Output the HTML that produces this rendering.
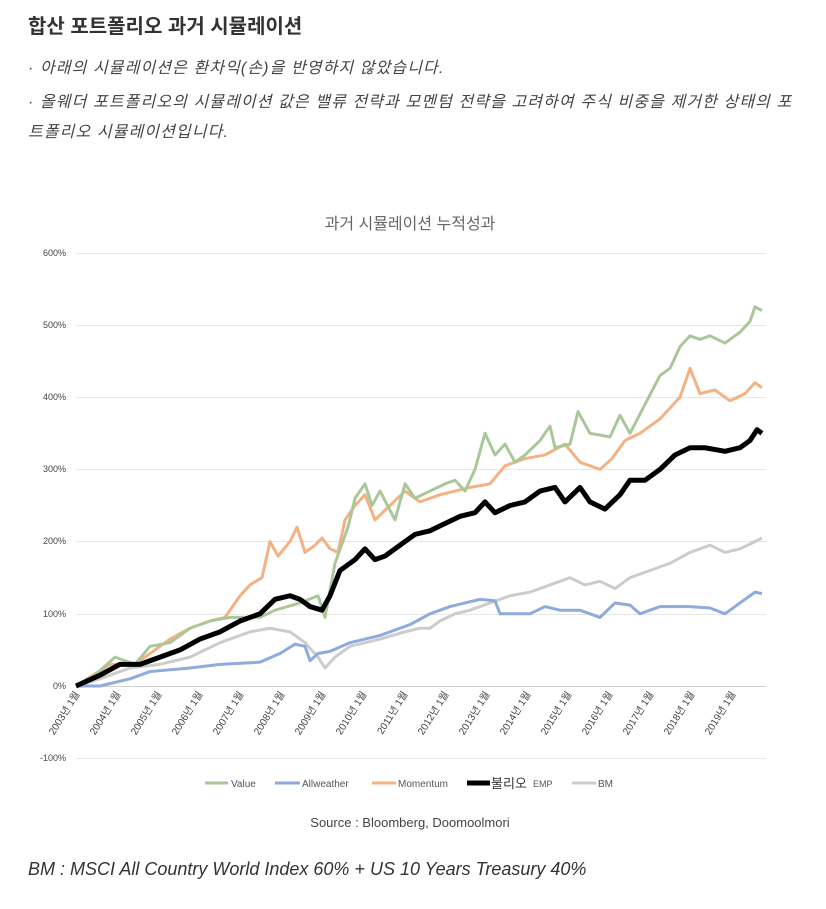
<!DOCTYPE html>
<html><head><meta charset="utf-8"><style>
body{margin:0;background:#fff;width:826px;height:909px;overflow:hidden;font-family:"Liberation Sans","Noto Sans CJK KR",sans-serif;color:#333}
.t{position:absolute;left:28px;top:10px;font-size:20px;font-weight:bold;color:#333}
.p{position:absolute;left:28px;font-size:16px;font-style:italic;color:#444;letter-spacing:1.1px;white-space:nowrap}
</style></head><body>
<div class="t">합산 포트폴리오 과거 시뮬레이션</div>
<div class="p" style="top:54px">· 아래의 시뮬레이션은 환차익(손)을 반영하지 않았습니다.</div>
<div class="p" style="top:88px">· 올웨더 포트폴리오의 시뮬레이션 값은 밸류 전략과 모멘텀 전략을 고려하여 주식 비중을 제거한 상태의 포</div>
<div class="p" style="top:118px">트폴리오 시뮬레이션입니다.</div>
<svg width="826" height="909" style="position:absolute;left:0;top:0" font-family="Liberation Sans, Noto Sans CJK KR, sans-serif">
<text x="410" y="229" font-size="16" fill="#666" text-anchor="middle">과거 시뮬레이션 누적성과</text>
<g stroke="#e6e6e6" stroke-width="1">
<line x1="76" x2="766" y1="253.5" y2="253.5"/><line x1="76" x2="766" y1="325.5" y2="325.5"/><line x1="76" x2="766" y1="397.5" y2="397.5"/><line x1="76" x2="766" y1="469.5" y2="469.5"/><line x1="76" x2="766" y1="541.5" y2="541.5"/><line x1="76" x2="766" y1="614.5" y2="614.5"/><line x1="76" x2="766" y1="758.5" y2="758.5"/>
</g>
<line x1="76" x2="766" y1="686.5" y2="686.5" stroke="#d0d0d0"/>
<g font-size="9" fill="#444" text-anchor="end">
<text x="66" y="256">600%</text><text x="66" y="328">500%</text><text x="66" y="400">400%</text><text x="66" y="472">300%</text><text x="66" y="544">200%</text><text x="66" y="617">100%</text><text x="66" y="689">0%</text><text x="66" y="761">-100%</text>
</g>
<g font-size="10" fill="#444" text-anchor="end">
<text transform="translate(80,694) rotate(-58)">2003년 1월</text><text transform="translate(121,694) rotate(-58)">2004년 1월</text><text transform="translate(162,694) rotate(-58)">2005년 1월</text><text transform="translate(203,694) rotate(-58)">2006년 1월</text><text transform="translate(244,694) rotate(-58)">2007년 1월</text><text transform="translate(285,694) rotate(-58)">2008년 1월</text><text transform="translate(326,694) rotate(-58)">2009년 1월</text><text transform="translate(367,694) rotate(-58)">2010년 1월</text><text transform="translate(408,694) rotate(-58)">2011년 1월</text><text transform="translate(449,694) rotate(-58)">2012년 1월</text><text transform="translate(490,694) rotate(-58)">2013년 1월</text><text transform="translate(531,694) rotate(-58)">2014년 1월</text><text transform="translate(572,694) rotate(-58)">2015년 1월</text><text transform="translate(613,694) rotate(-58)">2016년 1월</text><text transform="translate(654,694) rotate(-58)">2017년 1월</text><text transform="translate(695,694) rotate(-58)">2018년 1월</text><text transform="translate(736,694) rotate(-58)">2019년 1월</text>
</g>
<g transform="translate(0,686) scale(1,-0.722)" fill="none" stroke-linejoin="round">
<polyline vector-effect="non-scaling-stroke" stroke="#cccccc" stroke-width="3" points="76,0 100,10 130,25 160,30 190,40 220,60 250,75 270,80 290,75 305,60 318,40 325,25 335,40 350,55 380,65 405,75 420,80 430,80 440,90 455,100 470,105 490,115 510,125 530,130 550,140 570,150 585,140 600,145 615,135 630,150 650,160 670,170 690,185 710,195 725,185 740,190 755,200 762,205"/>
<polyline vector-effect="non-scaling-stroke" stroke="#8faadc" stroke-width="3" points="76,0 100,0 130,10 150,20 190,25 220,30 260,33 280,45 295,58 305,55 310,35 318,45 330,48 350,60 380,70 410,85 430,100 450,110 465,115 480,120 495,118 500,100 515,100 530,100 545,110 560,105 580,105 600,95 615,115 630,112 640,100 660,110 690,110 710,108 725,100 740,115 755,130 762,128"/>
<polyline vector-effect="non-scaling-stroke" stroke="#f4b183" stroke-width="3" points="76,0 110,30 135,30 150,45 170,65 190,80 210,90 225,95 240,125 250,140 262,150 270,200 278,180 290,200 297,220 305,185 315,195 322,205 330,190 338,185 345,230 355,250 365,265 375,230 390,250 405,270 420,255 440,265 455,270 470,275 490,280 505,305 525,315 545,320 565,335 580,310 600,300 612,315 625,340 640,350 660,370 680,400 690,440 700,405 715,410 730,395 745,405 755,420 762,413"/>
<polyline vector-effect="non-scaling-stroke" stroke="#a9c89a" stroke-width="3" points="76,0 95,15 115,40 125,35 135,30 150,55 170,60 190,80 210,90 230,95 260,95 275,105 300,115 318,125 325,95 335,170 348,220 355,260 365,280 372,250 380,270 395,230 405,280 415,260 430,270 445,280 455,285 465,270 475,300 485,350 495,320 505,335 515,310 525,320 540,340 550,360 555,330 570,335 578,380 590,350 610,345 620,375 630,350 645,390 660,430 670,440 680,470 690,485 700,480 710,485 725,475 740,490 750,505 755,525 762,520"/>
<polyline vector-effect="non-scaling-stroke" stroke="#000" stroke-width="5" points="76,0 100,15 120,30 140,30 160,40 180,50 200,65 220,75 240,90 260,100 275,120 290,125 300,120 310,110 322,105 330,125 340,160 355,175 365,190 375,175 385,180 400,195 415,210 430,215 445,225 460,235 475,240 485,255 495,240 510,250 525,255 540,270 555,275 565,255 580,275 590,255 605,245 620,265 630,285 645,285 660,300 675,320 690,330 705,330 725,325 740,330 750,340 757,355 762,350"/>
</g>
<g font-size="10" fill="#555">
<line x1="205" x2="228" y1="783" y2="783" stroke="#a9c89a" stroke-width="3"/><text x="231" y="787">Value</text>
<line x1="275" x2="300" y1="783" y2="783" stroke="#8faadc" stroke-width="3"/><text x="302" y="787">Allweather</text>
<line x1="372" x2="396" y1="783" y2="783" stroke="#f4b183" stroke-width="3"/><text x="398" y="787">Momentum</text>
<line x1="467" x2="490" y1="783" y2="783" stroke="#000" stroke-width="5"/><text x="491" y="788" font-size="13" fill="#333">불리오</text><text x="533" y="787" font-size="9">EMP</text>
<line x1="572" x2="596" y1="783" y2="783" stroke="#ccc" stroke-width="3"/><text x="598" y="787">BM</text>
</g>
<text x="410" y="827" font-size="13" fill="#444" text-anchor="middle">Source : Bloomberg, Doomoolmori</text>
<text x="28" y="875" font-size="18" font-style="italic" fill="#333">BM : MSCI All Country World Index 60% + US 10 Years Treasury 40%</text>
</svg>
</body></html>
